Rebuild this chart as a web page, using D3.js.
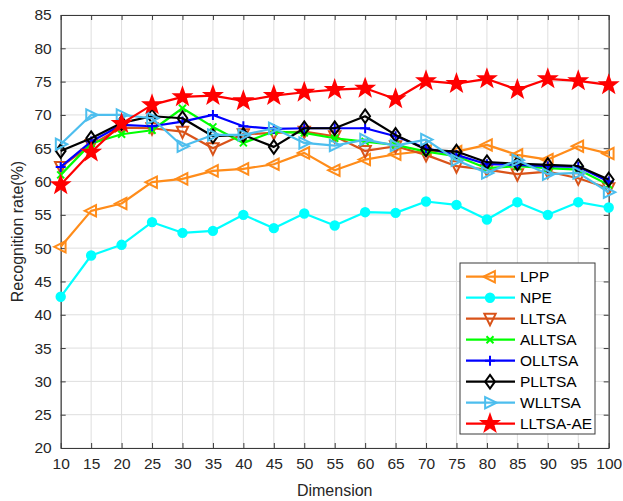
<!DOCTYPE html>
<html>
<head>
<meta charset="utf-8">
<script src="https://cdn.jsdelivr.net/npm/d3@7"></script>
<style>
  html, body { margin: 0; padding: 0; background: #fff; }
  svg { display: block; font-family: "Liberation Sans", Arial, Helvetica, sans-serif; }
</style>
</head>
<body>
<svg id="chart" width="623" height="501"></svg>
<script>
// Recognition rate (%) versus reduced dimension for each method
const dimensions = [10, 15, 20, 25, 30, 35, 40, 45, 50, 55, 60, 65, 70, 75, 80, 85, 90, 95, 100];

const lpp     = [50.2, 55.6, 56.7, 59.9, 60.4, 61.6, 61.9, 62.6, 64.3, 61.7, 63.3, 64.1, 64.6, 64.5, 65.5, 64.0, 63.3, 65.3, 64.2];
const npe     = [42.7, 48.9, 50.5, 53.9, 52.3, 52.6, 55.0, 53.0, 55.2, 53.4, 55.4, 55.3, 57.0, 56.5, 54.3, 56.9, 55.0, 56.9, 56.1];
const lltsa   = [62.2, 65.5, 68.1, 68.0, 67.5, 65.0, 67.1, 67.3, 67.5, 66.8, 64.6, 65.3, 64.0, 62.3, 61.8, 61.1, 61.5, 60.5, 59.0];
const alltsa  = [61.0, 65.7, 67.1, 67.7, 71.0, 68.2, 65.8, 67.5, 67.3, 66.5, 66.0, 65.5, 64.5, 63.8, 62.0, 62.3, 62.0, 61.8, 59.5];
const olltsa  = [62.2, 66.0, 68.5, 68.3, 69.0, 70.0, 68.3, 67.9, 68.0, 68.0, 68.0, 66.8, 65.0, 64.0, 62.6, 62.5, 62.3, 62.2, 60.0];
const plltsa  = [64.6, 66.5, 68.8, 69.8, 69.5, 66.8, 67.0, 65.2, 68.0, 68.0, 69.8, 67.0, 64.8, 64.5, 62.9, 62.7, 62.5, 62.3, 60.3];
const wlltsa  = [65.6, 70.0, 70.0, 69.5, 65.3, 67.0, 67.0, 68.0, 65.8, 65.4, 66.3, 65.4, 66.3, 63.2, 61.3, 63.2, 61.1, 61.3, 58.4];
const lltsaAe = [59.5, 64.4, 68.7, 71.5, 72.7, 72.9, 72.1, 72.9, 73.4, 73.8, 74.0, 72.4, 75.1, 74.7, 75.4, 73.8, 75.4, 75.1, 74.5];

const seriesNames  = ["LPP", "NPE", "LLTSA", "ALLTSA", "OLLTSA", "PLLTSA", "WLLTSA", "LLTSA-AE"];
const seriesValues = [lpp, npe, lltsa, alltsa, olltsa, plltsa, wlltsa, lltsaAe];
const seriesColors = ["#FF8C1A", "#00FFFF", "#D95319", "#00FF00", "#0000FF", "#000000", "#4DBEEE", "#FF0000"];
const seriesMarkers = ["triLeft", "dot", "triDown", "cross", "plus", "diamond", "triRight", "star"];

const xTicks = d3.range(10, 101, 5);
const yTicks = d3.range(20, 86, 5);

const svg = d3.select("#chart");
const margin = { left: 60.7, right: 623 - 608.7, top: 15, bottom: 501 - 448 };
const W = 623, H = 501;

const x = d3.scaleLinear().domain([10, 100]).range([margin.left, W - margin.right]);
const y = d3.scaleLinear().domain([20, 85]).range([H - margin.bottom, margin.top]);

const axisColor = "#3a3a3a";
const gridColor = "#dedede";

// grid
const grid = svg.append("g");
grid.selectAll("line.gx").data(xTicks).join("line")
  .attr("x1", d => x(d)).attr("x2", d => x(d))
  .attr("y1", y(20)).attr("y2", y(85))
  .attr("stroke", gridColor).attr("stroke-width", 1);
grid.selectAll("line.gy").data(yTicks).join("line")
  .attr("y1", d => y(d)).attr("y2", d => y(d))
  .attr("x1", x(10)).attr("x2", x(100))
  .attr("stroke", gridColor).attr("stroke-width", 1);

// axes with inward ticks on all four sides
function styleAxis(g) {
  g.select(".domain").attr("stroke", axisColor).attr("stroke-width", 1.2);
  g.selectAll(".tick line").attr("stroke", axisColor).attr("stroke-width", 1);
  g.selectAll(".tick text").attr("fill", "#262626").attr("font-size", 15.5);
}
const tickLen = 5;
svg.append("g").attr("transform", `translate(0,${y(20)})`)
  .call(d3.axisBottom(x).tickValues(xTicks).tickSizeInner(-tickLen).tickSizeOuter(0).tickPadding(10))
  .call(styleAxis);
svg.append("g").attr("transform", `translate(0,${y(85)})`)
  .call(d3.axisTop(x).tickValues(xTicks).tickSizeInner(-tickLen).tickSizeOuter(0).tickFormat(""))
  .call(styleAxis);
svg.append("g").attr("transform", `translate(${x(10)},0)`)
  .call(d3.axisLeft(y).tickValues(yTicks).tickSizeInner(-tickLen).tickSizeOuter(0).tickPadding(9))
  .call(styleAxis);
svg.append("g").attr("transform", `translate(${x(100)},0)`)
  .call(d3.axisRight(y).tickValues(yTicks).tickSizeInner(-tickLen).tickSizeOuter(0).tickFormat(""))
  .call(styleAxis);

// axis titles
svg.append("text")
  .attr("x", (x(10) + x(100)) / 2).attr("y", 496)
  .attr("text-anchor", "middle").attr("font-size", 16).attr("fill", "#262626")
  .text("Dimension");
svg.append("text")
  .attr("transform", `translate(23,${(y(20) + y(85)) / 2}) rotate(-90)`)
  .attr("text-anchor", "middle").attr("font-size", 16).attr("fill", "#262626")
  .text("Recognition rate(%)");

// marker shapes
function markerPath(kind) {
  const r = 6.5;
  switch (kind) {
    case "triLeft":  return `M${-r},0 L${r * 0.75},${-r * 0.87} L${r * 0.75},${r * 0.87} Z`;
    case "triRight": return `M${r},0 L${-r * 0.75},${-r * 0.87} L${-r * 0.75},${r * 0.87} Z`;
    case "triDown":  return `M0,${r} L${-r * 0.87},${-r * 0.75} L${r * 0.87},${-r * 0.75} Z`;
    case "diamond":  return `M0,${-r * 1.05} L${r * 0.75},0 L0,${r * 1.05} L${-r * 0.75},0 Z`;
    case "plus":     return `M0,-5 L0,5 M-5,0 L5,0`;
    case "cross":    return `M-3.5,-3.5 L3.5,3.5 M-3.5,3.5 L3.5,-3.5`;
    case "dot":      return d3.arc()({ innerRadius: 0, outerRadius: 4.2, startAngle: 0, endAngle: 2 * Math.PI });
    case "star": {
      const outer = 8.6, inner = 3.5, pts = [];
      for (let i = 0; i < 10; i++) {
        const a = -Math.PI / 2 + i * Math.PI / 5;
        const rr = i % 2 === 0 ? outer : inner;
        pts.push([rr * Math.cos(a), rr * Math.sin(a)]);
      }
      return "M" + pts.map(p => p.join(",")).join("L") + "Z";
    }
  }
}
function markerFill(kind, color) {
  return (kind === "dot" || kind === "star") ? color : "none";
}

const line = d3.line().x((d, i) => x(dimensions[i])).y(d => y(d));

// series lines and markers
seriesValues.forEach((vals, k) => {
  const g = svg.append("g");
  g.append("path").datum(vals)
    .attr("d", line).attr("fill", "none")
    .attr("stroke", seriesColors[k]).attr("stroke-width", 2.2)
    .attr("stroke-linejoin", "round");
  g.selectAll("path.m").data(vals).join("path")
    .attr("class", "m")
    .attr("transform", (d, i) => `translate(${x(dimensions[i])},${y(d)})`)
    .attr("d", markerPath(seriesMarkers[k]))
    .attr("fill", markerFill(seriesMarkers[k], seriesColors[k]))
    .attr("stroke", seriesColors[k]).attr("stroke-width", 2);
});

// legend
const lg = svg.append("g");
const lgX = 460, lgY = 263, lgW = 135, lgH = 171, rowH = 21;
lg.append("rect").attr("x", lgX).attr("y", lgY).attr("width", lgW).attr("height", lgH)
  .attr("fill", "#fff").attr("stroke", axisColor).attr("stroke-width", 1);
seriesNames.forEach((name, k) => {
  const cy = lgY + 13.7 + k * rowH;
  lg.append("line").attr("x1", lgX + 6).attr("x2", lgX + 55).attr("y1", cy).attr("y2", cy)
    .attr("stroke", seriesColors[k]).attr("stroke-width", 2.2);
  lg.append("path").attr("transform", `translate(${lgX + 30},${cy})`)
    .attr("d", markerPath(seriesMarkers[k]))
    .attr("fill", markerFill(seriesMarkers[k], seriesColors[k]))
    .attr("stroke", seriesColors[k]).attr("stroke-width", 2);
  lg.append("text").attr("x", lgX + 60).attr("y", cy).attr("dy", "0.36em")
    .attr("font-size", 15.5).attr("fill", "#000").text(name);
});
</script>
</body>
</html>
